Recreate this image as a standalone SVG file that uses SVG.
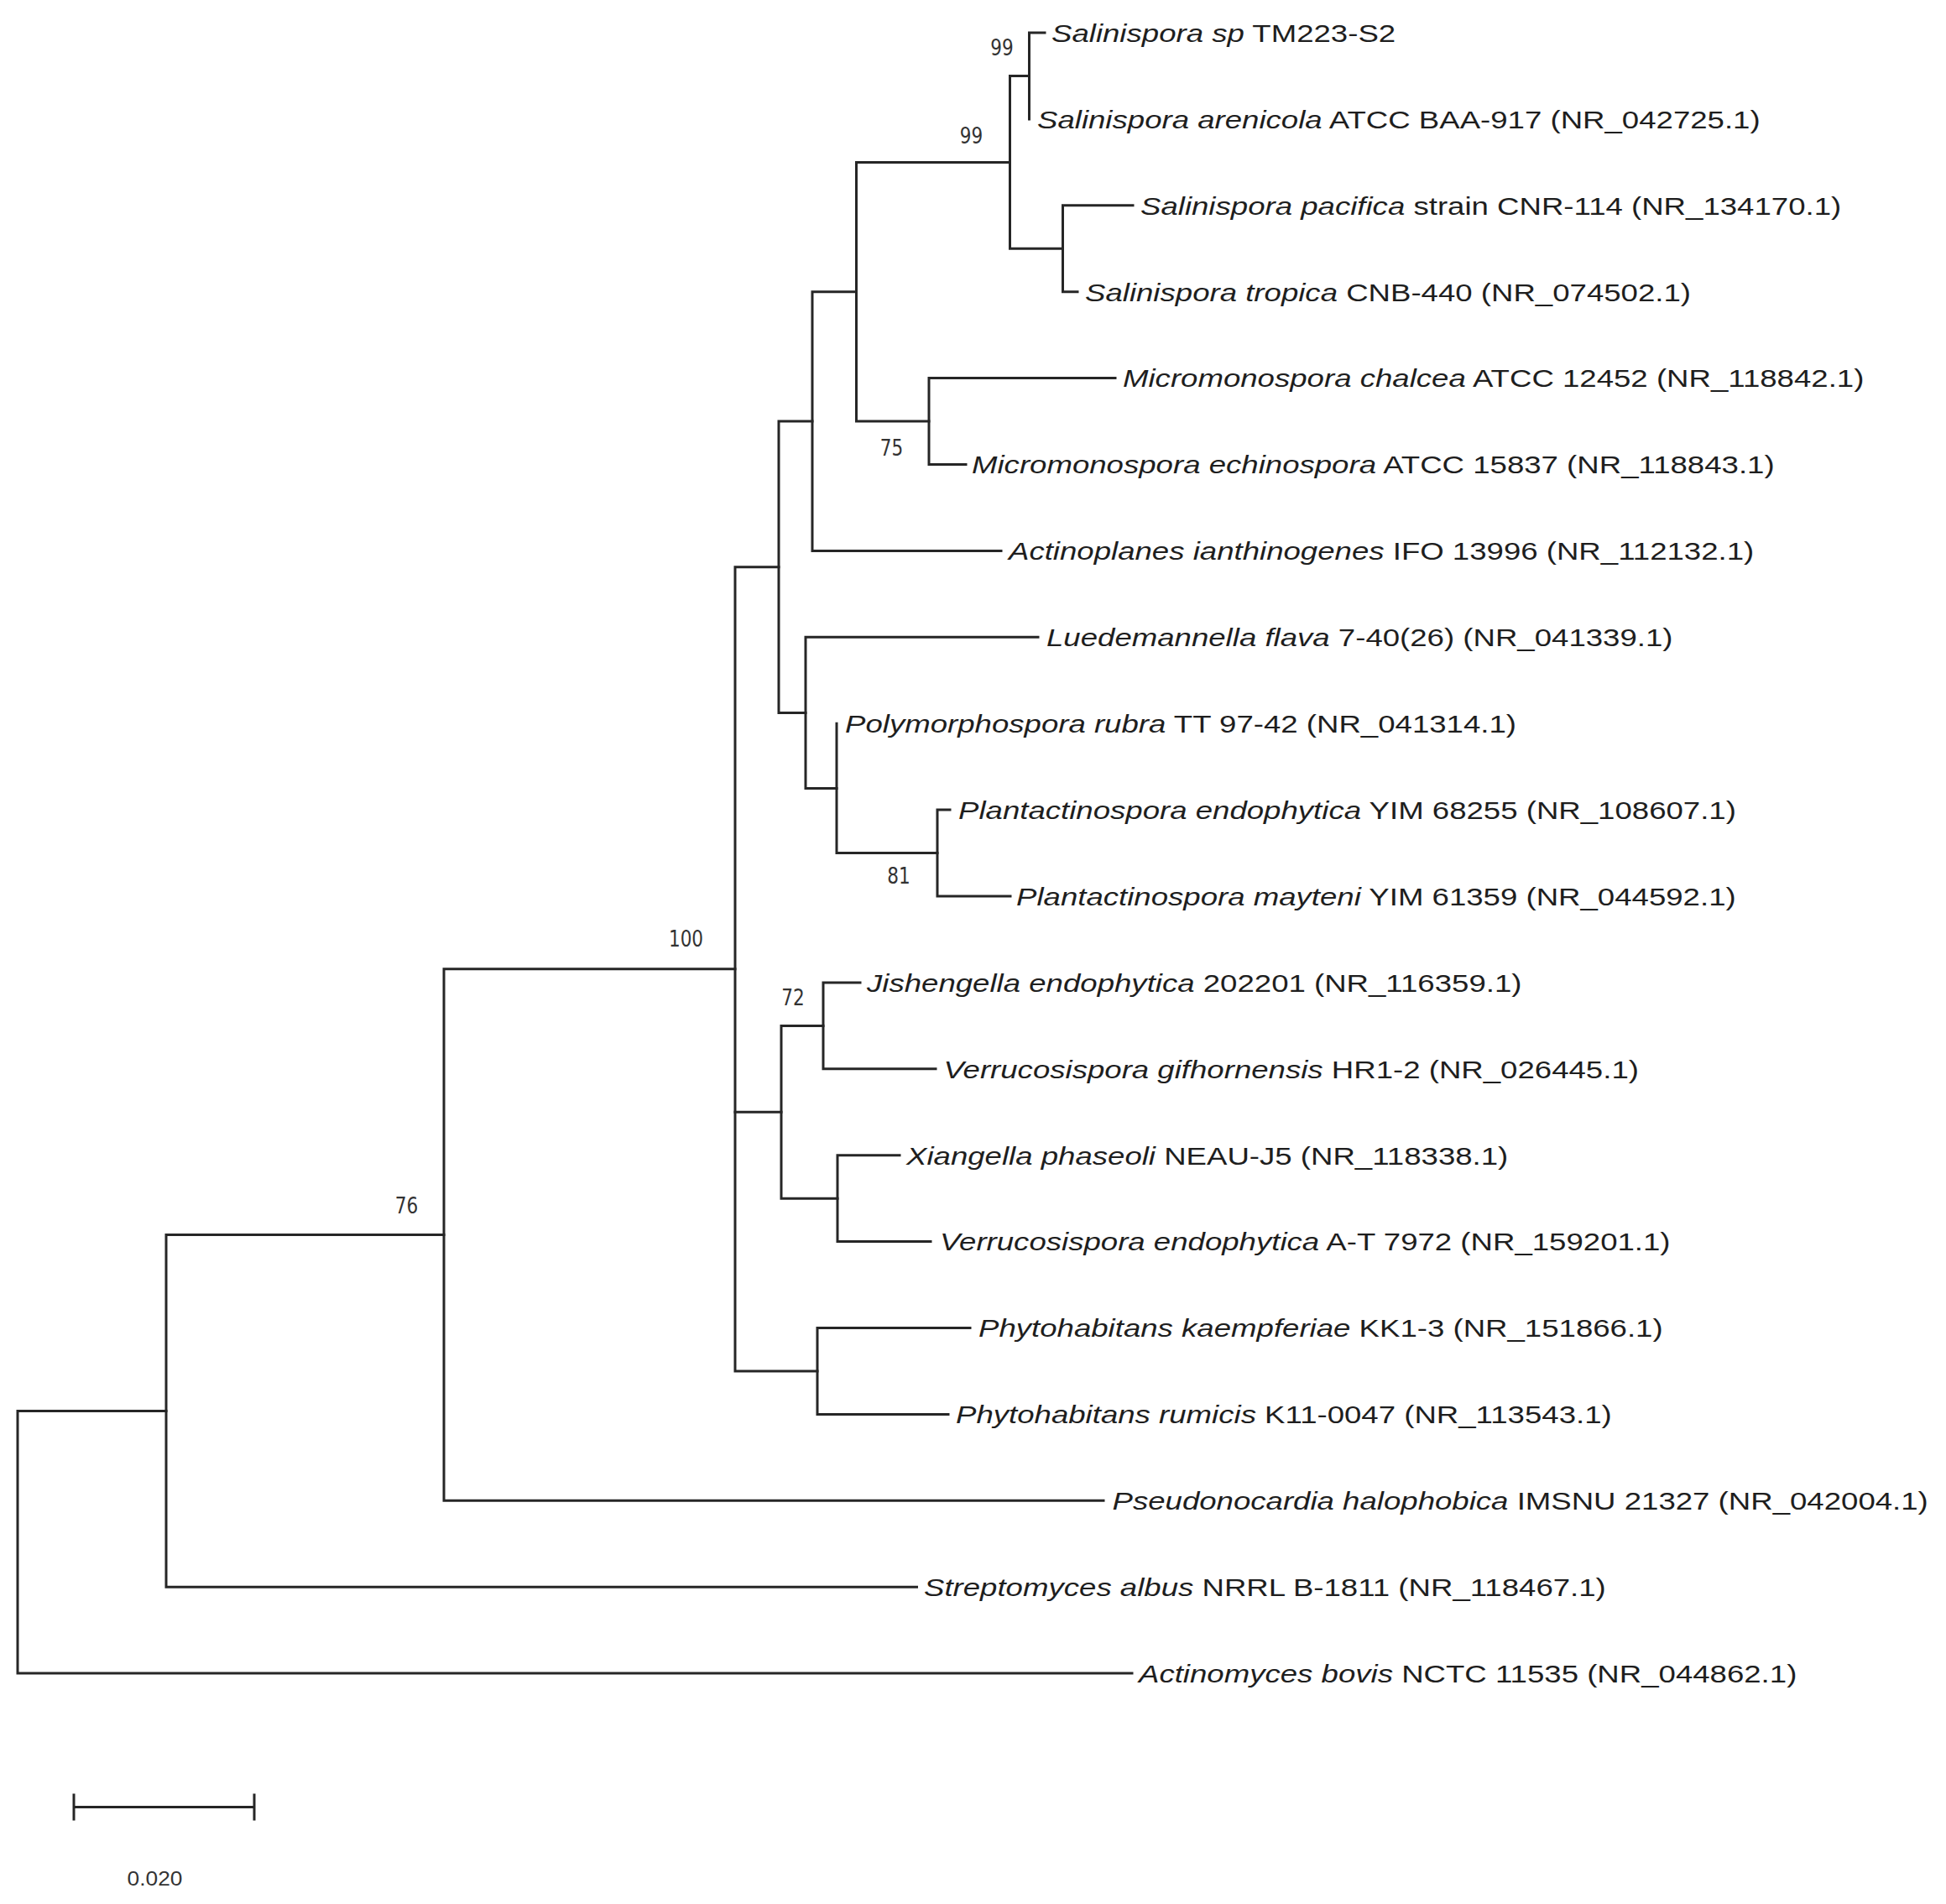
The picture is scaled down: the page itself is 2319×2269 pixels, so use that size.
<svg xmlns="http://www.w3.org/2000/svg" width="2319" height="2269" viewBox="0 0 2319 2269">
<style>
.bg{fill:#ffffff}
.edge{fill:none;stroke:#262626;stroke-width:3;stroke-linecap:square;stroke-linejoin:miter}
.lab{font-family:"Liberation Sans",Arial,sans-serif;font-size:30px;fill:#1e1e1e}
.i{font-style:italic}
.bs{font-family:"DejaVu Sans",Verdana,sans-serif;font-size:26px;fill:#333333;text-anchor:middle}
.sc{font-family:"Liberation Sans",Arial,sans-serif;font-size:23.5px;fill:#333333;text-anchor:middle}
</style>
<rect class="bg" x="0" y="0" width="2319" height="2269"/>
<g id="connectors">
<path class="edge" d="M198,1681.4 H21 V1994.1 H1349"/>
<path class="edge" d="M529,1471.5 H198 V1891.2 H1092.5"/>
<path class="edge" d="M876,1154.8 H529 V1788.3 H1315"/>
<path class="edge" d="M928,675.7 H876 V1634 H974"/>
<path class="edge" d="M876,1325.3 H931"/>
<path class="edge" d="M968,502 H928 V849.4 H960"/>
<path class="edge" d="M1020.5,347.7 H968 V656.4 H1193"/>
<path class="edge" d="M1203.5,193.4 H1020.5 V502 H1107"/>
<path class="edge" d="M1226.5,90.5 H1203.5 V296.3 H1266.5"/>
<path class="edge" d="M1245,39 H1226.5 V141.9"/>
<path class="edge" d="M1350,244.8 H1266.5 V347.7 H1284"/>
<path class="edge" d="M1329,450.6 H1107 V553.5 H1151"/>
<path class="edge" d="M1237,759.3 H960 V939.4 H997"/>
<path class="edge" d="M997,862.2 V1016.5 H1117"/>
<path class="edge" d="M1132,965.1 H1117 V1068 H1204"/>
<path class="edge" d="M981,1222.4 H931 V1428.2 H998"/>
<path class="edge" d="M1025,1170.9 H981 V1273.8 H1115"/>
<path class="edge" d="M1072,1376.7 H998 V1479.6 H1109"/>
<path class="edge" d="M1156,1582.5 H974 V1685.4 H1130"/>
</g>
<g id="leaf-salinispora-sp"><text class="lab" transform="translate(1253,49.8) scale(1.22,1)"><tspan class="i">Salinispora sp</tspan> TM223-S2</text></g>
<g id="leaf-salinispora-arenicola"><text class="lab" transform="translate(1236,152.7) scale(1.22,1)"><tspan class="i">Salinispora arenicola</tspan> ATCC BAA-917 (NR_042725.1)</text></g>
<g id="leaf-salinispora-pacifica"><text class="lab" transform="translate(1359,255.6) scale(1.22,1)"><tspan class="i">Salinispora pacifica</tspan> strain CNR-114 (NR_134170.1)</text></g>
<g id="leaf-salinispora-tropica"><text class="lab" transform="translate(1293,358.5) scale(1.22,1)"><tspan class="i">Salinispora tropica</tspan> CNB-440 (NR_074502.1)</text></g>
<g id="leaf-micromonospora-chalcea"><text class="lab" transform="translate(1338,461.4) scale(1.22,1)"><tspan class="i">Micromonospora chalcea</tspan> ATCC 12452 (NR_118842.1)</text></g>
<g id="leaf-micromonospora-echinospora"><text class="lab" transform="translate(1158,564.3) scale(1.22,1)"><tspan class="i">Micromonospora echinospora</tspan> ATCC 15837 (NR_118843.1)</text></g>
<g id="leaf-actinoplanes"><text class="lab" transform="translate(1202,667.2) scale(1.22,1)"><tspan class="i">Actinoplanes ianthinogenes</tspan> IFO 13996 (NR_112132.1)</text></g>
<g id="leaf-luedemannella"><text class="lab" transform="translate(1247,770.1) scale(1.22,1)"><tspan class="i">Luedemannella flava</tspan> 7-40(26) (NR_041339.1)</text></g>
<g id="leaf-polymorphospora"><text class="lab" transform="translate(1007,873) scale(1.22,1)"><tspan class="i">Polymorphospora rubra</tspan> TT 97-42 (NR_041314.1)</text></g>
<g id="leaf-plantactinospora-endophytica"><text class="lab" transform="translate(1142,975.9) scale(1.22,1)"><tspan class="i">Plantactinospora endophytica</tspan> YIM 68255 (NR_108607.1)</text></g>
<g id="leaf-plantactinospora-mayteni"><text class="lab" transform="translate(1211,1078.8) scale(1.22,1)"><tspan class="i">Plantactinospora mayteni</tspan> YIM 61359 (NR_044592.1)</text></g>
<g id="leaf-jishengella"><text class="lab" transform="translate(1033,1181.7) scale(1.22,1)"><tspan class="i">Jishengella endophytica</tspan> 202201 (NR_116359.1)</text></g>
<g id="leaf-verrucosispora-gifhornensis"><text class="lab" transform="translate(1124.5,1284.6) scale(1.22,1)"><tspan class="i">Verrucosispora gifhornensis</tspan> HR1-2 (NR_026445.1)</text></g>
<g id="leaf-xiangella"><text class="lab" transform="translate(1080,1387.5) scale(1.22,1)"><tspan class="i">Xiangella phaseoli</tspan> NEAU-J5 (NR_118338.1)</text></g>
<g id="leaf-verrucosispora-endophytica"><text class="lab" transform="translate(1120,1490.4) scale(1.22,1)"><tspan class="i">Verrucosispora endophytica</tspan> A-T 7972 (NR_159201.1)</text></g>
<g id="leaf-phytohabitans-kaempferiae"><text class="lab" transform="translate(1166,1593.3) scale(1.22,1)"><tspan class="i">Phytohabitans kaempferiae</tspan> KK1-3 (NR_151866.1)</text></g>
<g id="leaf-phytohabitans-rumicis"><text class="lab" transform="translate(1139,1696.2) scale(1.22,1)"><tspan class="i">Phytohabitans rumicis</tspan> K11-0047 (NR_113543.1)</text></g>
<g id="leaf-pseudonocardia"><text class="lab" transform="translate(1325.5,1799.1) scale(1.22,1)"><tspan class="i">Pseudonocardia halophobica</tspan> IMSNU 21327 (NR_042004.1)</text></g>
<g id="leaf-streptomyces"><text class="lab" transform="translate(1101,1902) scale(1.22,1)"><tspan class="i">Streptomyces albus</tspan> NRRL B-1811 (NR_118467.1)</text></g>
<g id="leaf-actinomyces"><text class="lab" transform="translate(1357,2004.9) scale(1.22,1)"><tspan class="i">Actinomyces bovis</tspan> NCTC 11535 (NR_044862.1)</text></g>
<g id="bootstrap">
<text class="bs" transform="translate(1194,65.5) scale(0.83,1)">99</text>
<text class="bs" transform="translate(1157.5,170.5) scale(0.83,1)">99</text>
<text class="bs" transform="translate(1062.5,542.5) scale(0.83,1)">75</text>
<text class="bs" transform="translate(1071,1052.5) scale(0.83,1)">81</text>
<text class="bs" transform="translate(817.5,1128) scale(0.83,1)">100</text>
<text class="bs" transform="translate(945,1197.5) scale(0.83,1)">72</text>
<text class="bs" transform="translate(484.5,1445.5) scale(0.83,1)">76</text>
</g>
<g id="scale-bar">
<path class="edge" d="M88,2153.5 H303 M88,2139 V2168 M303,2139 V2168"/>
<text class="sc" transform="translate(184.5,2247) scale(1.12,1)">0.020</text>
</g>
</svg>
